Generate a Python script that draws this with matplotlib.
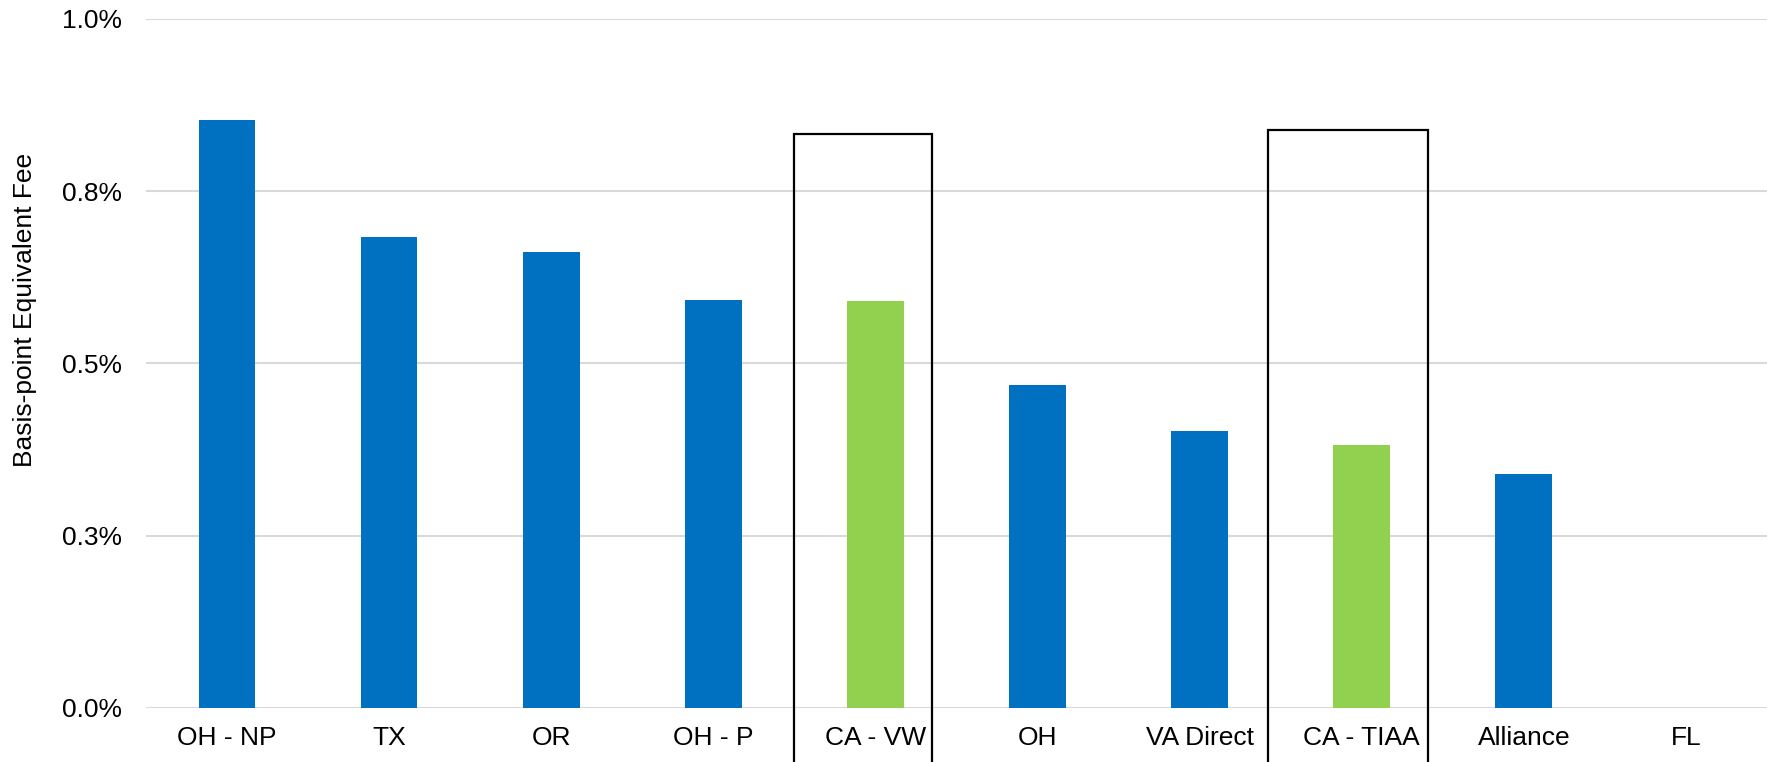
import matplotlib
matplotlib.use("Agg")
import matplotlib.pyplot as plt
from matplotlib.patches import Rectangle

plt.rcParams['font.family'] = ['Liberation Sans', 'DejaVu Sans']

# fee data, in percent
plans = ["OH - NP", "TX", "OR", "OH - P", "CA - VW", "OH", "VA Direct", "CA - TIAA", "Alliance", "FL"]
fees = [0.853, 0.683, 0.662, 0.592, 0.590, 0.469, 0.402, 0.381, 0.340, 0.0]
highlight = ["CA - VW", "CA - TIAA"]

yticks = [0.0, 0.25, 0.5, 0.75, 1.0]
ytick_labels = ["0.0%", "0.3%", "0.5%", "0.8%", "1.0%"]

BLUE = "#0070C0"
GREEN = "#92D050"

fig = plt.figure(figsize=(17.67, 7.62), dpi=100)
ax = fig.add_axes([0.0826, 0.0709, 0.9174, 0.9042])

colors = [GREEN if p in highlight else BLUE for p in plans]
x = list(range(len(plans)))
ax.bar(x, fees, width=0.35, color=colors, zorder=3)

ax.set_xlim(-0.5, len(plans) - 0.5)
ax.set_ylim(0, 1.0)
ax.set_yticks(yticks)
ax.set_yticklabels(ytick_labels)
ax.set_xticks(x)
ax.set_xticklabels(plans)
ax.tick_params(axis='both', length=0, labelsize=19)
ax.tick_params(axis='x', pad=13)
ax.tick_params(axis='y', pad=17)

ax.grid(axis='y', color='#d9d9d9', linewidth=1.5, zorder=0)
for s in ax.spines.values():
    s.set_visible(False)

ax.set_ylabel("Basis-point Equivalent Fee", fontsize=19)
ax.yaxis.set_label_coords(-0.067, 0.578)

# outline boxes around the highlighted plans
boxes = [(3.5, 4.35, 0.833), (6.42, 7.41, 0.839)]
for x0, x1, top in boxes:
    ax.add_patch(Rectangle((x0, -0.2), x1 - x0, top + 0.2, fill=False,
                           edgecolor='black', linewidth=1.6, clip_on=False, zorder=4))

fig.savefig("out.png", dpi=100)
